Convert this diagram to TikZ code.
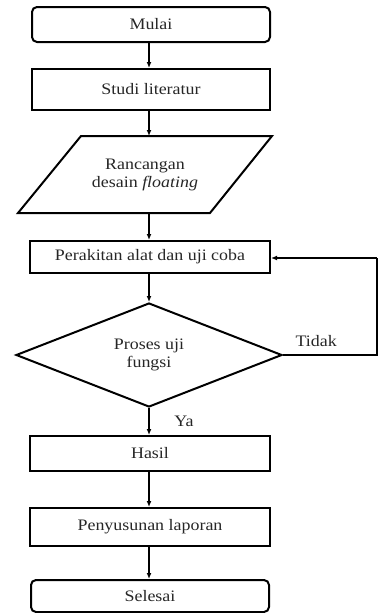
\documentclass[tikz,border=0pt]{standalone}
\usepackage{fontspec}
\setmainfont{Liberation Serif}[FakeStretch=1.12]
\usetikzlibrary{shapes.geometric,arrows.meta}
\begin{document}
\begin{tikzpicture}[x=1pt,y=-1pt,
  every node/.style={font=\fontsize{16}{18}\selectfont, text=black!85},
  procbox/.style={draw, line width=2pt, rectangle, minimum width=240pt, inner sep=0pt},
  termbox/.style={procbox, rounded corners=5pt, minimum width=238pt},
  arr/.style={line width=1.3pt, -{Latex[length=6pt,width=5pt]}},
  plain/.style={line width=1.3pt}]
\useasboundingbox (0,0) rectangle (378,613);
\node[termbox, minimum height=35pt] (mulai) at (151,24.5) {Mulai};
\node[procbox, minimum width=238pt, minimum height=41pt] (studi) at (151,89.5) {Studi literatur};
% parallelogram
\coordinate (ptop) at (149,136);
\coordinate (pbot) at (149,213);
\draw[line width=2pt, line join=miter] (81,136) -- (272,136) -- (210,213) -- (18,213) -- cycle;
\node[align=center] (ranc) at (145,175) {Rancangan\\desain \textit{floating}};
\node[procbox, minimum height=32pt] (rakit) at (150,257) {Perakitan alat dan uji coba};
\node[draw, shape=diamond, line width=2pt, minimum width=266pt, minimum height=104pt, inner sep=0pt, align=center] (uji) at (149,355) {Proses uji\\fungsi};
\node[procbox, minimum height=35pt] (hasil) at (150,453.5) {Hasil};
\node[procbox, minimum height=38pt] (lapor) at (150,527) {Penyusunan laporan};
\node[termbox, minimum height=32pt] (selesai) at (150,596) {Selesai};
\coordinate (fb1) at (377,355);
\coordinate (fb2) at (377,258);
\draw[arr] (mulai.south -| 149,0) -- (studi.north -| 149,0);
\draw[arr] (studi.south -| 149,0) -- (ptop);
\draw[arr] (pbot) -- (rakit.north -| 149,0);
\draw[arr] (rakit.south -| 149,0) -- (uji.north);
\draw[arr] (uji.south) -- (hasil.north -| 149,0);
\draw[arr] (hasil.south -| 149,0) -- (lapor.north -| 149,0);
\draw[arr] (lapor.south -| 149,0) -- (selesai.north -| 149,0);
\draw[plain] (uji.east) -- (fb1) -- (fb2);
\draw[arr] (fb2) -- (rakit.east |- fb2);
\node[anchor=south west] (tidak) at (292,350) {Tidak};
\node (ya) at (184,421) {Ya};
\end{tikzpicture}
\end{document}
